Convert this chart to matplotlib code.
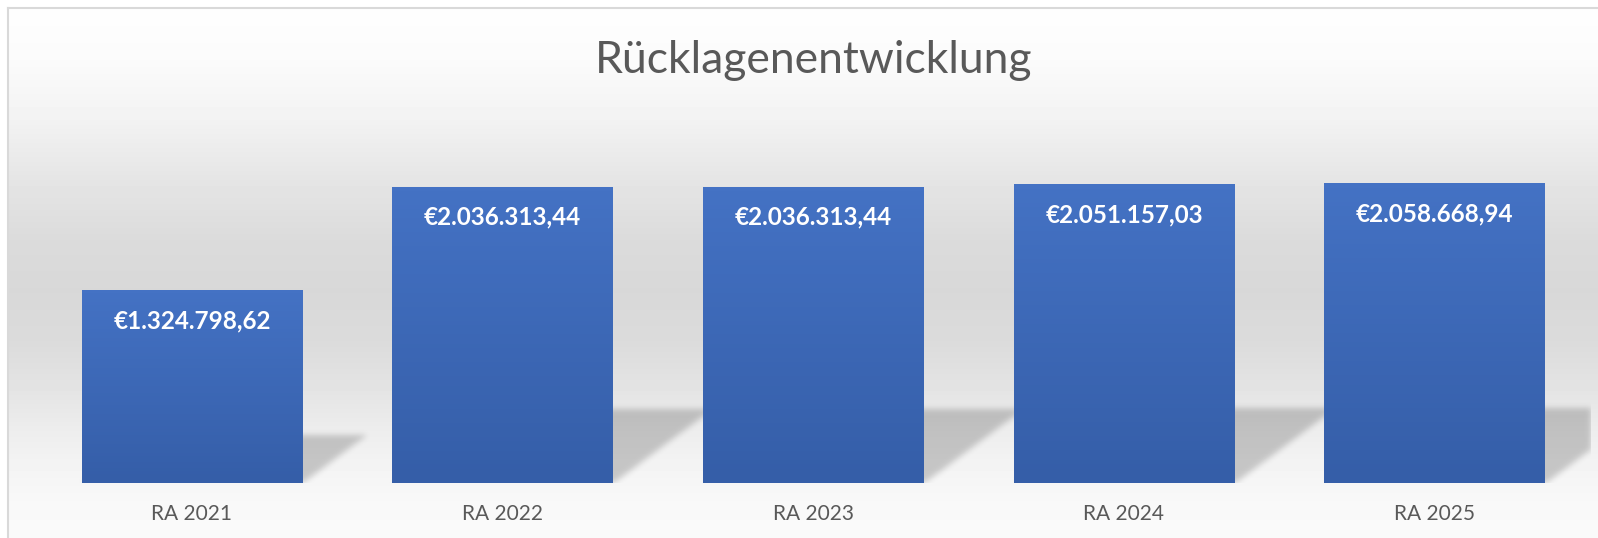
import numpy as np
import matplotlib
matplotlib.use("Agg")
import matplotlib.pyplot as plt

plt.rcParams['font.family'] = ['Lato', 'DejaVu Sans']

# data
categories = ["RA 2021", "RA 2022", "RA 2023", "RA 2024", "RA 2025"]
values = [1324798.62, 2036313.44, 2036313.44, 2051157.03, 2058668.94]
title = "Rücklagenentwicklung"

W_PX, H_PX = 1598, 538
fig = plt.figure(figsize=(W_PX / 100, H_PX / 100), dpi=100)
fig.patch.set_facecolor("white")

# background of chart area (grey gradient, frame on left/top)
bg = fig.add_axes([8 / W_PX, 0, 1 - 8 / W_PX, (H_PX - 8) / H_PX])
stops_y = [8, 60, 120, 180, 240, 290, 340, 390, 430, 470, 500, 538]
stops_v = [254, 251, 242, 229, 219, 216, 219, 228, 237, 244, 248, 250]
rows = np.arange(8, H_PX)
grey = np.interp(rows, stops_y, stops_v) / 255.0
grad = np.repeat(grey[:, None], 2, axis=1)
bg.imshow(grad, cmap="gray", vmin=0, vmax=1, aspect="auto", extent=[0, 1, 0, 1])
bg.set_xticks([])
bg.set_yticks([])
for side in ["right", "bottom"]:
    bg.spines[side].set_visible(False)
for side in ["left", "top"]:
    bg.spines[side].set_color("#d9d9d9")
    bg.spines[side].set_linewidth(1.5)

# plot area
ax_l, ax_r, ax_b, ax_t = 36.6, 1590, 55, 419
ax = fig.add_axes([ax_l / W_PX, ax_b / H_PX, (ax_r - ax_l) / W_PX, (ax_t - ax_b) / H_PX])
ax.patch.set_alpha(0)
x = np.arange(len(categories))
bar_w = 0.71
ymax = 2.5e6
bars = ax.bar(x, values, width=bar_w, color="#4472c4", zorder=3)

# gradient fill in bars
bar_grad = np.linspace(0, 1, 64)[:, None]
top_c = np.array([68, 114, 196]) / 255
bot_c = np.array([53, 94, 168]) / 255
rgb = top_c + (bot_c - top_c) * bar_grad[:, :, None]
for b in bars:
    x0, y0 = b.get_x(), b.get_y()
    im = ax.imshow(rgb, extent=[x0, x0 + b.get_width(), y0, y0 + b.get_height()],
                   aspect="auto", zorder=3.1, origin="upper")
    im.set_clip_path(b)

# soft perspective shadows behind the bars
pw, ph = int(ax_r - ax_l), int(ax_t - ax_b)
px_x = pw / len(categories)
px_y = ph / ymax
xx, yy = np.meshgrid(np.arange(pw) + 0.5, np.arange(ph) + 0.5)
mask = np.zeros((ph, pw))
slope = 1.34
for b in bars:
    L = (b.get_x() + 0.5) * px_x
    R = L + b.get_width() * px_x
    h = b.get_height() * px_y * 0.25
    inside = (yy <= h) & (xx >= L + slope * yy) & (xx <= R + slope * yy)
    mask[inside] = 1.0
k = np.exp(-0.5 * (np.arange(-9, 10) / 3.0) ** 2)
k /= k.sum()
mask = np.apply_along_axis(lambda r: np.convolve(r, k, mode="same"), 1, mask)
mask = np.apply_along_axis(lambda c: np.convolve(c, k, mode="same"), 0, mask)
shadow = np.zeros((ph, pw, 4))
shadow[..., 3] = mask * 0.19
ax.imshow(shadow, extent=[-0.5, len(categories) - 0.5, 0, ymax], origin="lower",
          aspect="auto", zorder=1)

ax.set_xlim(-0.5, len(categories) - 0.5)
ax.set_ylim(0, ymax)
ax.set_yticks([])
ax.set_xticks(x)
ax.set_xticklabels(categories, fontsize=15, color="#595959")
ax.tick_params(axis="x", length=0, pad=26.4)
for lbl in ax.get_xticklabels():
    lbl.set_va("baseline")
for s in ax.spines.values():
    s.set_visible(False)


def euro(v):
    s = f"{v:,.2f}".replace(",", "X").replace(".", ",").replace("X", ".")
    return "€" + s


for xi, v in zip(x, values):
    ax.annotate(euro(v), (xi, v), xytext=(0, -27.5), textcoords="offset points",
                ha="center", va="baseline", color="white", fontsize=17.5,
                fontweight="bold", zorder=5)

ax.text(0.5, 1.126, title, transform=ax.transAxes, ha="center", va="baseline",
        fontsize=32, color="#595959")

fig.savefig("out.png", dpi=100)
